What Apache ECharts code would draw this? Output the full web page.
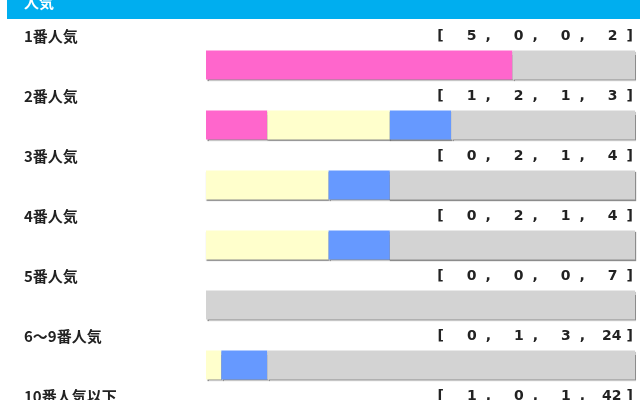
<!DOCTYPE html>
<html>
<head>
<meta charset="utf-8">
<script src="https://cdn.jsdelivr.net/npm/echarts@6/dist/echarts.min.js"></script>
<style>html,body{margin:0;padding:0;background:#fff}#c{width:640px;height:400px}</style>
</head>
<body>
<div id="c"></div>
<script>
const headerTitle = '人気';
const categories = ['1番人気','2番人気','3番人気','4番人気','5番人気','6〜9番人気','10番人気以下'];
const firstPlace  = [5, 1, 0, 0, 0, 0, 1];
const secondPlace = [0, 2, 2, 2, 0, 1, 0];
const thirdPlace  = [0, 1, 1, 1, 0, 3, 1];
const outOfPlace  = [2, 3, 4, 4, 7, 24, 42];

const totals = categories.map((_, i) => firstPlace[i] + secondPlace[i] + thirdPlace[i] + outOfPlace[i]);
const frac = arr => arr.map((v, i) => v / totals[i]);

const chart = echarts.init(document.getElementById('c'), null, {renderer: 'canvas'});
const shadow = {shadowColor: 'rgba(0,0,0,0.45)', shadowBlur: 1, shadowOffsetY: 1.5, shadowOffsetX: 0.5};
const mk = (name, arr, color) => ({
  name, type: 'bar', stack: 'a', data: frac(arr), barWidth: 29,
  itemStyle: Object.assign({color}, shadow), silent: true, animation: false
});
const LH = 58;
const base = {fontFamily: 'DejaVu Sans', fontWeight: 'bold', fontSize: 14, color: '#222', lineHeight: LH, verticalAlign: 'middle'};
const st = extra => Object.assign({}, base, extra);
const num = v => (String(v).length > 1 ? '{n2|' : '{n1|') + v + '}';
const bracketText = i => {
  const last = outOfPlace[i];
  return '{l|[}' + num(firstPlace[i]) + '{c|,}' + num(secondPlace[i]) + '{c|,}' + num(thirdPlace[i]) + '{c|,}' +
    num(last) + (String(last).length > 1 ? '{r2|]}' : '{r1|]}');
};
chart.setOption({
  animation: false,
  title: {text: headerTitle, left: 24, top: -5, padding: 0, z: 10,
    textStyle: {color: '#fff', fontSize: 15, fontWeight: 'bold', fontFamily: 'Noto Sans CJK JP'}},
  graphic: [{type: 'rect', z: 0, shape: {x: 7, y: 0, width: 633, height: 19}, style: {fill: '#00aeef'}}],
  grid: {left: 206, right: 5, top: 35, height: 420, outerBoundsMode: 'none', containLabel: false},
  xAxis: {type: 'value', min: 0, max: 1, show: false},
  yAxis: [
    {type: 'category', data: categories, inverse: true,
     axisLine: {show: false}, axisTick: {show: false},
     axisLabel: {interval: 0, align: 'left', margin: 182, verticalAlign: 'bottom', lineHeight: LH,
       fontFamily: 'Noto Sans CJK JP', fontWeight: 'bold', fontSize: 15, color: '#222'}},
    {type: 'category', data: categories, inverse: true, position: 'right',
     axisLine: {show: false}, axisTick: {show: false},
     axisLabel: {interval: 0, align: 'right', margin: -2, verticalAlign: 'bottom', lineHeight: LH,
       formatter: (v, i) => bracketText(i),
       rich: {
         l: st({}),
         n1: st({padding: [0, 0, 0, 23]}),
         n2: st({padding: [0, 0, 0, 17]}),
         c: st({padding: [0, 0, 0, 9]}),
         r1: st({padding: [0, 0, 0, 9]}),
         r2: st({padding: [0, 0, 0, 5]})
       }}}
  ],
  series: [
    mk('1着', firstPlace, '#ff66cc'),
    mk('2着', secondPlace, '#ffffcc'),
    mk('3着', thirdPlace, '#6699ff'),
    mk('着外', outOfPlace, '#d3d3d3')
  ]
});
</script>
</body>
</html>
